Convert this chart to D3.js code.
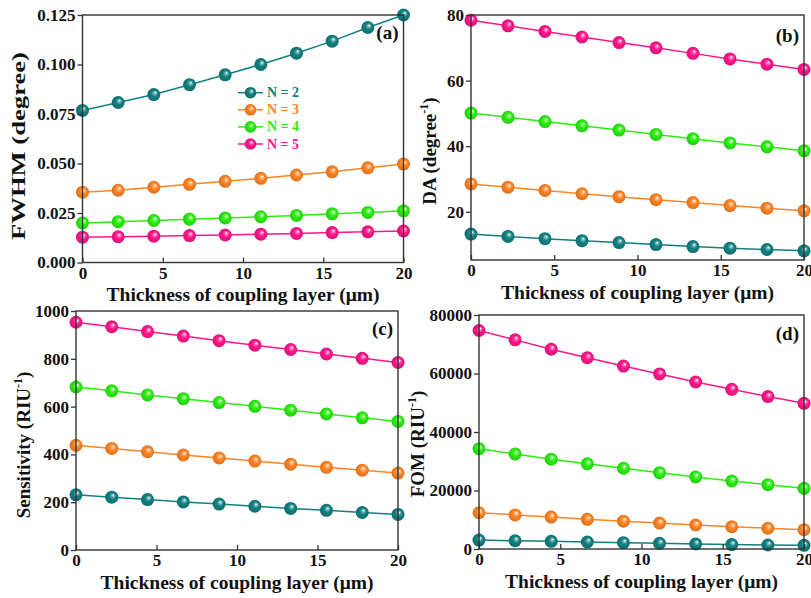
<!DOCTYPE html>
<html>
<head>
<meta charset="utf-8">
<script src="https://cdn.jsdelivr.net/npm/d3@7"></script>
<style>
  html, body { margin: 0; padding: 0; background: #fff; }
  svg { display: block; font-family: "Liberation Serif", "Times New Roman", serif; font-weight: bold; }
</style>
</head>
<body>
<svg id="chart" width="811" height="598"></svg>
<script>
// Coupling-layer thickness (µm), shared by all four panels
const thickness = [0, 2.222, 4.444, 6.667, 8.889, 11.111, 13.333, 15.556, 17.778, 20];

const seriesNames = ["N = 2", "N = 3", "N = 4", "N = 5"];
const seriesColors = ["#128080", "#ff8424", "#2aee10", "#ff168a"];

// (a) FWHM (degree)
const fwhmN2 = [0.0768, 0.0808, 0.0848, 0.0898, 0.0948, 0.1000, 0.1057, 0.1118, 0.1187, 0.1250];
const fwhmN3 = [0.0355, 0.0365, 0.0380, 0.0395, 0.0410, 0.0425, 0.0442, 0.0458, 0.0478, 0.0497];
const fwhmN4 = [0.0200, 0.0206, 0.0212, 0.0219, 0.0225, 0.0231, 0.0238, 0.0246, 0.0253, 0.0261];
const fwhmN5 = [0.0128, 0.0130, 0.0133, 0.0136, 0.0139, 0.0143, 0.0147, 0.0151, 0.0155, 0.0159];

// (b) DA (degree^-1)
const daN2 = [13.2, 12.5, 11.8, 11.2, 10.6, 10.0, 9.4, 8.9, 8.5, 8.1];
const daN3 = [28.5, 27.5, 26.5, 25.5, 24.6, 23.7, 22.8, 21.9, 21.1, 20.3];
const daN4 = [50.1, 48.8, 47.5, 46.2, 44.9, 43.6, 42.3, 41.0, 39.8, 38.6];
const daN5 = [78.4, 76.7, 75.0, 73.3, 71.6, 70.0, 68.3, 66.6, 65.0, 63.4];

// (c) Sensitivity (RIU^-1)
const sensN2 = [231, 221, 211, 201, 192, 183, 174, 166, 157, 149];
const sensN3 = [438, 425, 411, 398, 385, 372, 359, 346, 334, 322];
const sensN4 = [682, 666, 649, 633, 617, 601, 585, 569, 553, 538];
const sensN5 = [953, 934, 914, 895, 876, 857, 839, 820, 802, 785];

// (d) FOM (RIU^-1)
const fomN2 = [3050, 2830, 2610, 2390, 2170, 1950, 1730, 1520, 1370, 1240];
const fomN3 = [12400, 11650, 10900, 10150, 9500, 8850, 8200, 7600, 7100, 6600];
const fomN4 = [34300, 32500, 30700, 29150, 27600, 26100, 24650, 23250, 22000, 20750];
const fomN5 = [74700, 71500, 68300, 65400, 62550, 59850, 57100, 54600, 52100, 49800];

const xTicks = [0, 5, 10, 15, 20];
const fwhmTicks = [0, 0.025, 0.05, 0.075, 0.1, 0.125];
const daTicks = [20, 40, 60, 80];
const sensTicks = [0, 200, 400, 600, 800, 1000];
const fomTicks = [0, 20000, 40000, 60000, 80000];

const xTitle = "Thickness of coupling layer (\u03bcm)";

const panels = [
  { tag: "(a)", tagDy: 24, rect: [82.5, 15, 403.5, 262.5], yDomain: [0, 0.125], yTicks: fwhmTicks, fmt: d3.format(".3f"),
    series: [fwhmN2, fwhmN3, fwhmN4, fwhmN5], yTitle: ["FWHM (degree)"], yTitlePos: [21, 146], yTitleLen: 188, legend: true },
  { tag: "(b)", tagDy: 27, rect: [471, 15, 804, 260], yDomain: [5.3, 80], yTicks: daTicks, fmt: d3.format("d"),
    series: [daN2, daN3, daN4, daN5], yTitle: ["DA (degree", "-1", ")"], yTitlePos: [432, 151] },
  { tag: "(c)", tagDy: 24, rect: [76, 311, 398, 550], yDomain: [0, 1000], yTicks: sensTicks, fmt: d3.format("d"),
    series: [sensN2, sensN3, sensN4, sensN5], yTitle: ["Sensitivity (RIU", "-1", ")"], yTitlePos: [26, 445] },
  { tag: "(d)", tagDy: 25, rect: [479, 315, 804, 549], yDomain: [0, 80000], yTicks: fomTicks, fmt: d3.format("d"),
    series: [fomN2, fomN3, fomN4, fomN5], yTitle: ["FOM (RIU", "-1", ")"], yTitlePos: [420, 444] }
];

const svg = d3.select("#chart");

// Glossy sphere shading for the markers
const defs = svg.append("defs");
seriesColors.forEach((c, i) => {
  const g = defs.append("radialGradient").attr("id", "ball" + i)
    .attr("cx", "50%").attr("cy", "50%").attr("r", "55%")
    .attr("fx", "62%").attr("fy", "34%");
  g.append("stop").attr("offset", "0%").attr("stop-color", "#ffffff");
  g.append("stop").attr("offset", "18%").attr("stop-color", d3.interpolateRgb("#ffffff", c)(0.55));
  g.append("stop").attr("offset", "45%").attr("stop-color", c);
  g.append("stop").attr("offset", "100%").attr("stop-color", d3.color(c).darker(0.5));
});

const frameColor = "#333";

panels.forEach(p => {
  const [x0, y0, x1, y1] = p.rect;
  const x = d3.scaleLinear().domain([0, 20]).range([x0, x1]);
  const y = d3.scaleLinear().domain(p.yDomain).range([y1, y0]);
  const g = svg.append("g");

  // series lines and glossy markers
  p.series.forEach((vals, si) => {
    const pts = thickness.map((t, k) => [t, vals[k]]);
    g.append("path").datum(pts)
      .attr("fill", "none").attr("stroke", seriesColors[si]).attr("stroke-width", 1.5)
      .attr("d", d3.line().x(d => x(d[0])).y(d => y(d[1])));
    g.selectAll(null).data(pts).enter().append("circle")
      .attr("cx", d => x(d[0])).attr("cy", d => y(d[1])).attr("r", 6.5)
      .attr("fill", `url(#ball${si})`);
  });

  // frame
  g.append("rect").attr("x", x0).attr("y", y0).attr("width", x1 - x0).attr("height", y1 - y0)
    .attr("fill", "none").attr("stroke", frameColor).attr("stroke-width", 1.4);

  // bottom axis, ticks pointing inward
  const xa = svg.append("g").attr("transform", `translate(0,${y1})`)
    .call(d3.axisBottom(x).tickValues(xTicks).tickSize(-5).tickPadding(4).tickFormat(d3.format("d")));
  xa.select(".domain").remove();
  xa.selectAll("line").attr("stroke", frameColor).attr("stroke-width", 1.3);
  xa.selectAll("text").attr("font-size", 17).attr("font-family", "Liberation Serif").attr("font-weight", "bold").attr("fill", "#111");

  // left axis, ticks pointing outward
  const ya = svg.append("g").attr("transform", `translate(${x0},0)`)
    .call(d3.axisLeft(y).tickValues(p.yTicks).tickSize(5).tickPadding(2).tickFormat(p.fmt));
  ya.select(".domain").remove();
  ya.selectAll("line").attr("stroke", frameColor).attr("stroke-width", 1.3);
  ya.selectAll("text").attr("font-size", 17).attr("font-family", "Liberation Serif").attr("font-weight", "bold").attr("fill", "#111");

  // panel tag
  svg.append("text").attr("x", x1 - 5).attr("y", y0 + p.tagDy).attr("text-anchor", "end")
    .attr("font-size", 19).attr("fill", "#111").text(p.tag);

  // x title
  svg.append("text").attr("x", (x0 + x1) / 2).attr("y", y1 + 38.5).attr("text-anchor", "middle")
    .attr("font-size", 19.5).attr("fill", "#111").text(xTitle);

  // y title (with superscript where needed)
  const yt = svg.append("text")
    .attr("transform", `translate(${p.yTitlePos[0]},${p.yTitlePos[1]}) rotate(-90)`)
    .attr("text-anchor", "middle").attr("dominant-baseline", "middle")
    .attr("font-size", 19).attr("fill", "#111");
  if (p.yTitleLen) {
    yt.attr("textLength", p.yTitleLen).attr("lengthAdjust", "spacingAndGlyphs");
  }
  yt.append("tspan").text(p.yTitle[0]);
  if (p.yTitle[1]) {
    yt.append("tspan").attr("dy", -7).attr("font-size", 12).text(p.yTitle[1]);
    yt.append("tspan").attr("dy", 7).text(p.yTitle[2]);
  }

  // legend
  if (p.legend) {
    const lg = svg.append("g");
    seriesNames.forEach((name, si) => {
      const ly = 92.7 + si * 17.1;
      lg.append("line").attr("x1", 238).attr("x2", 263).attr("y1", ly).attr("y2", ly)
        .attr("stroke", seriesColors[si]).attr("stroke-width", 1.5);
      lg.append("circle").attr("cx", 250.5).attr("cy", ly).attr("r", 5.8).attr("fill", `url(#ball${si})`);
      lg.append("text").attr("x", 267).attr("y", ly).attr("dominant-baseline", "central")
        .attr("font-size", 14).attr("fill", seriesColors[si]).text(name);
    });
  }
});
</script>
</body>
</html>
